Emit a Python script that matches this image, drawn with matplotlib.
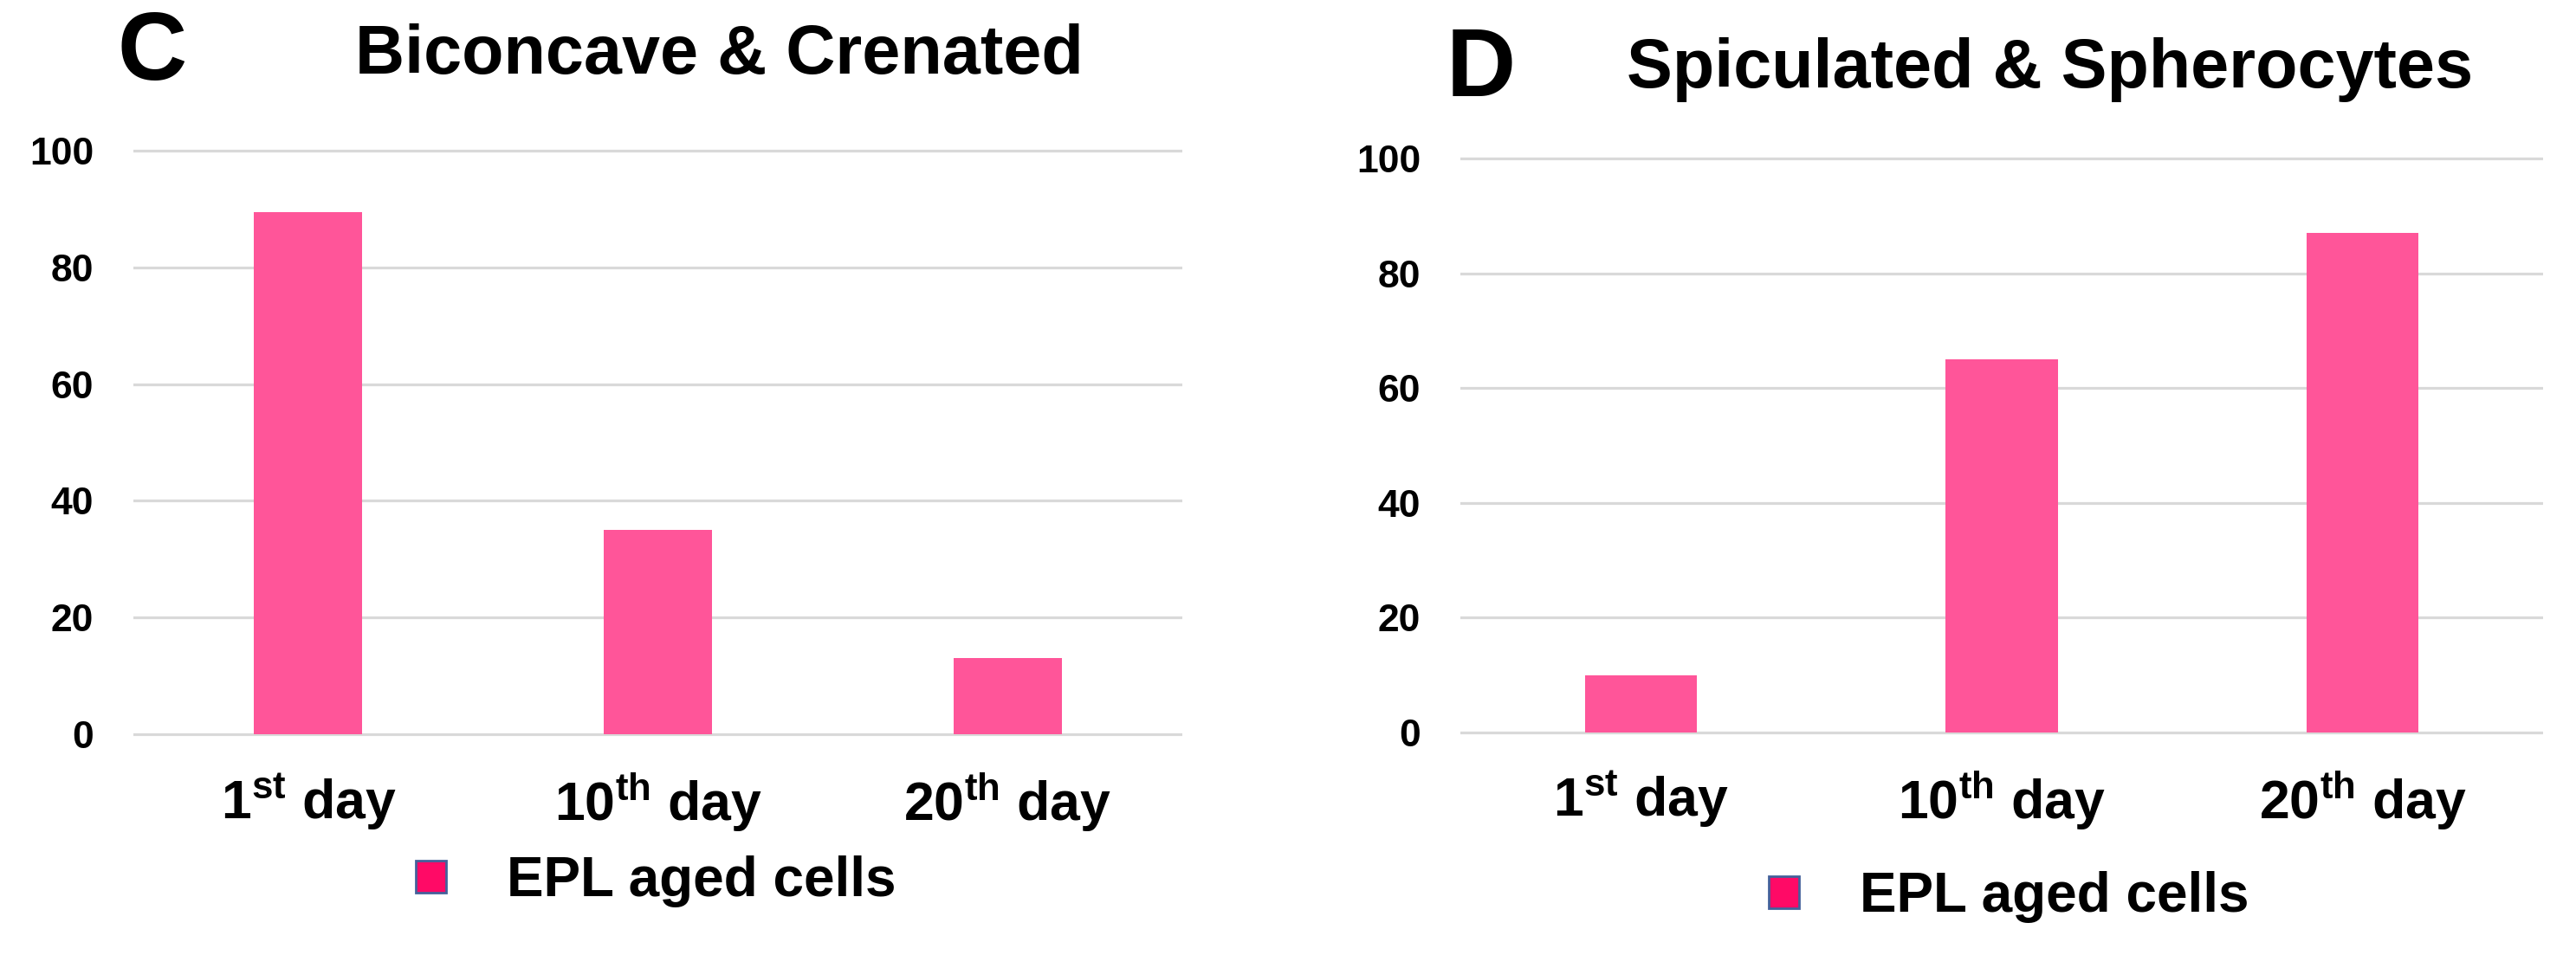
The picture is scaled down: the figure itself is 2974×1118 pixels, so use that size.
import matplotlib
matplotlib.use("Agg")
import matplotlib.pyplot as plt
from matplotlib.patches import Patch

plt.rcParams['font.family'] = ['Liberation Sans', 'DejaVu Sans']
plt.rcParams['font.weight'] = 'bold'
plt.rcParams['mathtext.fontset'] = 'custom'
plt.rcParams['mathtext.rm'] = 'Liberation Sans:bold'
plt.rcParams['mathtext.default'] = 'rm'

days = ['1$^{st}$ day', '10$^{th}$ day', '20$^{th}$ day']
biconcave_crenated = [89.5, 35, 13]
spiculated_spherocytes = [10, 65, 87]
yticks = [0, 20, 40, 60, 80, 100]
series_name = 'EPL aged cells'

BAR = '#FF5599'
GRID = '#D9D9D9'

fig = plt.figure(figsize=(29.74, 11.18), dpi=100)

# letter pos, title pos, legend centre, all in pixels from top-left
panels = [
    ('C', 'Biconcave & Crenated', biconcave_crenated,
     [0.0518, 0.2355, 0.4072, 0.6149], (136, 63), (830, 64), (757, 1018)),
    ('D', 'Spiculated & Spherocytes', spiculated_spherocytes,
     [0.5669, 0.2374, 0.4203, 0.6048], (1670, 82), (2367, 81), (2319, 1036)),
]

W, H = 2974, 1118
for letter, title, vals, rect, lpos, tpos, legpos in panels:
    ax = fig.add_axes(rect)
    x = range(len(days))
    ax.bar(x, vals, width=0.31, color=BAR, zorder=3)
    ax.set_xlim(-0.5, 2.5)
    ax.set_ylim(-1, 101)
    ax.set_yticks(yticks)
    ax.set_xticks(list(x))
    ax.set_xticklabels(days, fontsize=45)
    ax.tick_params(axis='y', labelsize=32, length=0, pad=33)
    ax.tick_params(axis='x', length=0, pad=26)
    ax.grid(axis='y', color=GRID, linewidth=2.3, zorder=0)
    for s in ax.spines.values():
        s.set_visible(False)
    fig.text(lpos[0] / W, 1 - lpos[1] / H, letter, fontsize=80,
             ha='left', va='center')
    fig.text(tpos[0] / W, 1 - tpos[1] / H, title, fontsize=57,
             ha='center', va='center')
    handle = Patch(facecolor='#FF0A66', edgecolor='#44619B', linewidth=2)
    fig.legend([handle], [series_name], loc='center',
               bbox_to_anchor=(legpos[0] / W, 1 - legpos[1] / H),
               frameon=False, handlelength=0.55, handleheight=0.5,
               handletextpad=1.1, borderpad=0,
               prop={'size': 46, 'weight': 'bold'})

fig.savefig('out.png', dpi=100)
